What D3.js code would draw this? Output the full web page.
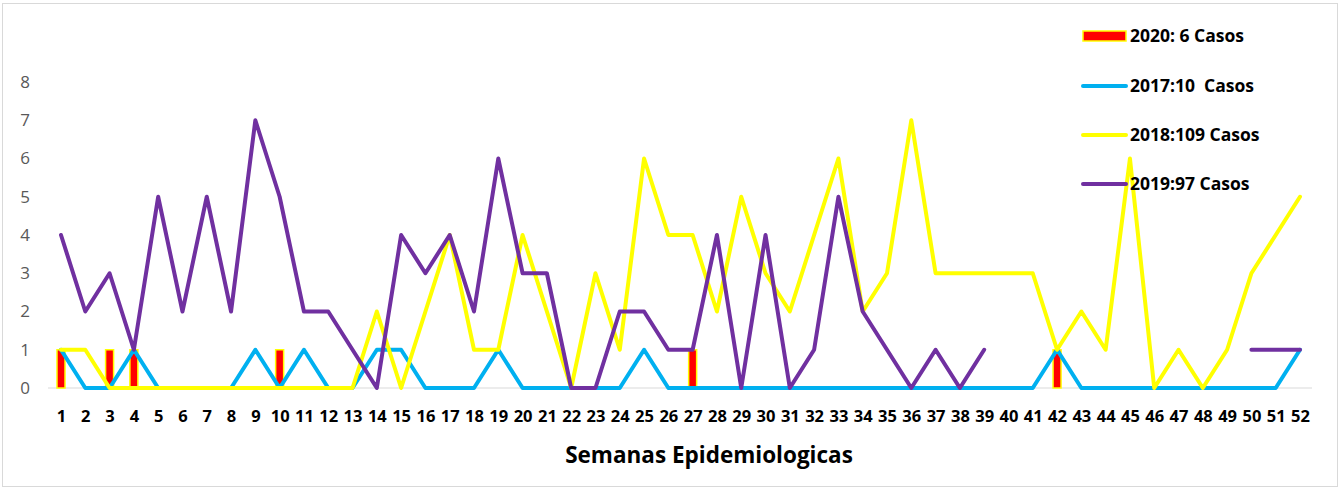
<!DOCTYPE html>
<html><head><meta charset="utf-8">
<script src="https://cdn.jsdelivr.net/npm/d3@7"></script>
<style>body{margin:0;background:#fff}svg{display:block}text{white-space:pre}</style>
</head><body>
<svg id="c" width="1343" height="489"></svg>
<script>
const weeks = d3.range(1, 53);
const yTicks = [0,1,2,3,4,5,6,7,8];
const s2017 = [1,0,0,1,0,0,0,0,1,0,1,0,0,1,1,0,0,0,1,0,0,0,0,0,1,0,0,0,0,0,0,0,0,0,0,0,0,0,0,0,0,1,0,0,0,0,0,0,0,0,0,1];
const s2018 = [1,1,0,0,0,0,0,0,0,0,0,0,0,2,0,2,4,1,1,4,2,0,3,1,6,4,4,2,5,3,2,4,6,2,3,7,3,3,3,3,3,1,2,1,6,0,1,0,1,3,4,5];
const s2019 = [4,2,3,1,5,2,5,2,7,5,2,2,1,0,4,3,4,2,6,3,3,0,0,2,2,1,1,4,0,4,0,1,5,2,1,0,1,0,1,null,null,null,null,null,null,null,null,null,null,1,1,1];
const s2020 = [1,0,1,1,0,0,0,0,0,1,0,0,0,0,0,0,0,0,0,0,0,0,0,0,0,0,1,0,0,0,0,0,0,0,0,0,0,0,0,0,0,1,0,0,0,0,0,0,0,0,0,0];
const legendLabels = ["2020: 6 Casos","2017:10  Casos","2018:109 Casos","2019:97 Casos"];
const colors = {c2017:"#00B0F0", c2018:"#FFFF00", c2019:"#7030A0", c2020:"#FF0000"};

const svg = d3.select("#c");
const font = "'Open Sans', 'Liberation Sans', sans-serif";
svg.append("rect").attr("x",2.5).attr("y",3.5).attr("width",1335).attr("height",483)
  .attr("fill","#fff").attr("stroke","#d9d9d9");

const x = d3.scalePoint().domain(weeks).range([61,1300]);
const y = d3.scaleLinear().domain([0,8]).range([388,82]);

// baseline
svg.append("line").attr("x1",48).attr("x2",1312).attr("y1",y(0)).attr("y2",y(0))
  .attr("stroke","#d9d9d9").attr("stroke-width",1);

// y axis
const ya = svg.append("g").attr("transform","translate(30,0)")
  .call(d3.axisLeft(y).tickValues(yTicks).tickSize(0).tickPadding(0));
ya.select(".domain").remove();
ya.selectAll("text").attr("font-family",font).attr("font-size",17).attr("fill","#595959");

// x axis
const xa = svg.append("g").attr("transform",`translate(0,${y(0)})`)
  .call(d3.axisBottom(x).tickSize(0));
xa.select(".domain").remove();
xa.selectAll("text").attr("y",33.5).attr("dy",0).attr("font-family",font).attr("font-size",16.5)
  .attr("font-weight","bold").attr("fill","#000");

svg.append("text").attr("x",709).attr("y",463).attr("text-anchor","middle")
  .attr("font-family",font).attr("font-size",22.5).attr("font-weight","bold").text("Semanas Epidemiologicas");

// bars 2020
const bw = 8;
svg.append("g").selectAll("rect").data(weeks.filter((w,i)=>s2020[i]>0)).join("rect")
  .attr("x",w=>x(w)-bw/2).attr("width",bw)
  .attr("y",w=>y(s2020[w-1])).attr("height",w=>y(0)-y(s2020[w-1]))
  .attr("fill",colors.c2020).attr("stroke",colors.c2018).attr("stroke-width",1.5);

const line = d3.line().defined(d=>d[1]!==null).x(d=>x(d[0])).y(d=>y(d[1]));
function draw(arr,col){
  svg.append("path").datum(weeks.map((w,i)=>[w,arr[i]])).attr("d",line)
    .attr("fill","none").attr("stroke",col).attr("stroke-width",4)
    .attr("stroke-linejoin","round").attr("stroke-linecap","round");
}
draw(s2017,colors.c2017);
draw(s2018,colors.c2018);
draw(s2019,colors.c2019);

// legend
const ly = [36,86,135,184];
const lcols = [colors.c2020,colors.c2017,colors.c2018,colors.c2019];
legendLabels.forEach((t,i)=>{
  if(i===0){
    svg.append("rect").attr("x",1083).attr("y",ly[i]-5).attr("width",43).attr("height",10)
      .attr("fill",colors.c2020).attr("stroke",colors.c2018).attr("stroke-width",1.5);
  } else {
    svg.append("line").attr("x1",1083).attr("x2",1126).attr("y1",ly[i]).attr("y2",ly[i])
      .attr("stroke",lcols[i]).attr("stroke-width",4).attr("stroke-linecap","round");
  }
  svg.append("text").attr("x",1130).attr("y",ly[i]+6).attr("font-family",font)
    .attr("font-size",17.5).attr("font-weight","bold").attr("fill","#000").text(t);
});
</script>
</body></html>
